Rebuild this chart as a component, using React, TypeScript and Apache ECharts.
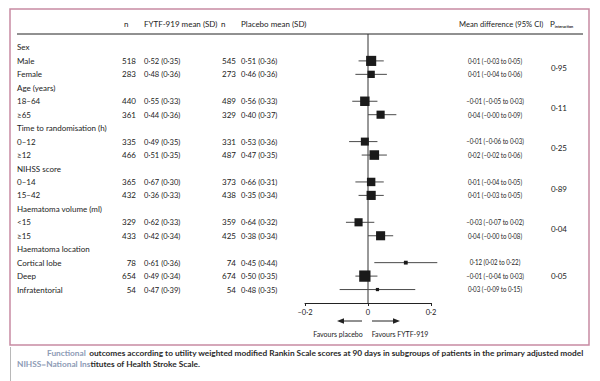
import React, { useEffect, useRef } from "react";
import * as echarts from "echarts";

// ---- data ----
const rowLabels = [
  "Sex", "Male", "Female",
  "Age (years)", "18–64", "≥65",
  "Time to randomisation (h)", "0–12", "≥12",
  "NIHSS score", "0–14", "15–42",
  "Haematoma volume (ml)", "<15", "≥15",
  "Haematoma location", "Cortical lobe", "Deep", "Infratentorial",
];
// null = group header row
const nFytf = [null, 518, 283, null, 440, 361, null, 335, 466, null, 365, 432, null, 329, 433, null, 78, 654, 54];
const meanFytf = [null, 0.52, 0.48, null, 0.55, 0.44, null, 0.49, 0.51, null, 0.67, 0.36, null, 0.62, 0.42, null, 0.61, 0.49, 0.47];
const sdFytf = [null, 0.35, 0.36, null, 0.33, 0.36, null, 0.35, 0.35, null, 0.30, 0.33, null, 0.33, 0.34, null, 0.36, 0.34, 0.39];
const nPlacebo = [null, 545, 273, null, 489, 329, null, 331, 487, null, 373, 438, null, 359, 425, null, 74, 674, 54];
const meanPlacebo = [null, 0.51, 0.46, null, 0.56, 0.40, null, 0.53, 0.47, null, 0.66, 0.35, null, 0.64, 0.38, null, 0.45, 0.50, 0.48];
const sdPlacebo = [null, 0.36, 0.36, null, 0.33, 0.37, null, 0.36, 0.35, null, 0.31, 0.34, null, 0.32, 0.34, null, 0.44, 0.35, 0.35];
const meanDiff = [null, 0.01, 0.01, null, -0.01, 0.04, null, -0.01, 0.02, null, 0.01, 0.01, null, -0.03, 0.04, null, 0.12, -0.01, 0.03];
const ciLow = [null, -0.03, -0.04, null, -0.05, -0, null, -0.06, -0.02, null, -0.04, -0.03, null, -0.07, -0, null, 0.02, -0.04, -0.09];
const ciHigh = [null, 0.05, 0.06, null, 0.03, 0.09, null, 0.03, 0.06, null, 0.05, 0.05, null, 0.02, 0.08, null, 0.22, 0.03, 0.15];
// p interaction: [value, first row, last row]
const pInteraction: [number, number, number][] = [
  [0.95, 1, 2], [0.11, 4, 5], [0.25, 7, 8], [0.89, 10, 11], [0.04, 13, 14], [0.05, 17, 17],
];
const xTicks = [-0.2, 0, 0.2];

// ---- helpers ----
const fmt = (v: number, d = 2) => {
  const neg = v < 0 || Object.is(v, -0);
  return (neg ? "–" : "") + Math.abs(v).toFixed(d).replace(".", "·");
};

const TEXT = "#222222";
const FONT = "Lato";
const FS = 8;

export default function App() {
  const ref = useRef<HTMLDivElement>(null);

  useEffect(() => {
    document.body.style.margin = "0";
    if (!ref.current) return;
    const chart = echarts.init(ref.current, undefined, { renderer: "svg" });

    const gridTop = 34;
    const gridH = 269;
    const nSlots = rowLabels.length + 1;
    const rowY = (i: number) => gridTop + ((i + 1) * gridH) / nSlots;

    const scatterData: any[] = [];
    // segments: [x1, x2, y1, y2]
    const segData: any[] = [];
    // the line of no difference, from the top to the bottom of the plot
    segData.push([0, 0, 0, nSlots]);
    rowLabels.forEach((_, i) => {
      if (meanDiff[i] === null) return;
      const total = (nFytf[i] as number) + (nPlacebo[i] as number);
      scatterData.push({ value: [meanDiff[i], i + 1], symbolSize: Math.sqrt(total) * 0.31 });
      segData.push([ciLow[i], ciHigh[i], i + 1, i + 1]);
    });

    const txt = (x: number, y: number, text: string, align: string = "left", extra: any = {}, scaleX = 1) => ({
      type: "text",
      x,
      y,
      scaleX,
      silent: true,
      style: {
        text,
        fill: TEXT,
        font: `${FS}px ${FONT}`,
        textAlign: align,
        textVerticalAlign: "middle",
        ...extra,
      },
    });

    const graphics: any[] = [];
    // frame
    graphics.push({
      type: "rect",
      shape: { x: 10, y: 9, width: 579, height: 336 },
      style: { fill: "none", stroke: "#c78aa2", lineWidth: 1.5 },
      silent: true,
    });
    graphics.push({
      type: "line",
      shape: { x1: 10.5, y1: 347, x2: 10.5, y2: 381 },
      style: { stroke: "#b8b8b8", lineWidth: 1 },
      silent: true,
    });
    // header rule
    graphics.push({
      type: "line",
      shape: { x1: 17, y1: 34, x2: 583, y2: 34 },
      style: { stroke: "#222", lineWidth: 1 },
      silent: true,
    });
    // headers
    const hy = 24;
    graphics.push(txt(124, hy, "n"));
    graphics.push(txt(144, hy, "FYTF-919 mean (SD)"));
    graphics.push(txt(221, hy, "n"));
    graphics.push(txt(241, hy, "Placebo mean (SD)"));
    graphics.push(txt(459, hy, "Mean difference (95% CI)", "left", {}, 0.95));
    graphics.push({
      type: "text",
      x: 550,
      y: hy,
      silent: true,
      style: {
        text: "{p|P}{s|interaction}",
        fill: TEXT,
        textVerticalAlign: "middle",
        rich: {
          p: { fontFamily: FONT, fontSize: 8, fill: TEXT },
          s: { fontFamily: FONT, fontSize: 3.8, fontWeight: "bold", fill: TEXT, padding: [4, 0, 0, 0] },
        },
      },
    });

    // rows
    rowLabels.forEach((lab, i) => {
      const y = rowY(i);
      graphics.push(txt(17, y, lab));
      if (nFytf[i] === null) return;
      graphics.push(txt(136, y, String(nFytf[i]), "right"));
      graphics.push(txt(144, y, `${fmt(meanFytf[i] as number)} (${fmt(sdFytf[i] as number)})`, "left", {}, 0.95));
      graphics.push(txt(236, y, String(nPlacebo[i]), "right"));
      graphics.push(txt(241, y, `${fmt(meanPlacebo[i] as number)} (${fmt(sdPlacebo[i] as number)})`, "left", {}, 0.95));
      graphics.push(
        txt(
          495,
          y,
          `${fmt(meanDiff[i] as number)} (${fmt(ciLow[i] as number)} to ${fmt(ciHigh[i] as number)})`,
          "center",
          {},
          0.77
        )
      );
    });
    pInteraction.forEach(([p, a, b]) => {
      graphics.push(txt(551, (rowY(a) + rowY(b)) / 2, fmt(p)));
    });

    // favours arrows
    const ay = 321;
    graphics.push({ type: "line", shape: { x1: 362, y1: ay, x2: 343, y2: ay }, style: { stroke: "#222", lineWidth: 1 }, silent: true });
    graphics.push({ type: "polygon", shape: { points: [[337, ay], [344, ay - 2.8], [344, ay + 2.8]] }, style: { fill: "#222" }, silent: true });
    graphics.push({ type: "line", shape: { x1: 372, y1: ay, x2: 394, y2: ay }, style: { stroke: "#222", lineWidth: 1 }, silent: true });
    graphics.push({ type: "polygon", shape: { points: [[400, ay], [393, ay - 2.8], [393, ay + 2.8]] }, style: { fill: "#222" }, silent: true });
    graphics.push(txt(338, 334, "Favours placebo", "center", { font: `7px ${FONT}` }));
    graphics.push(txt(400, 334, "Favours FYTF-919", "center", { font: `7px ${FONT}` }));

    // caption
    const capRich = {
      g: { fontFamily: FONT, fontWeight: "bold", fontSize: 8.3, fill: "#8d9bb5" },
      b: { fontFamily: FONT, fontWeight: "bold", fontSize: 8.3, fill: "#2a2a2a" },
    };
    graphics.push({
      type: "text",
      x: 47,
      y: 353,
      silent: true,
      style: {
        text: "{g|Functional} {b|outcomes according to utility weighted modified Rankin Scale scores at 90 days in subgroups of patients in the primary adjusted model}",
        textVerticalAlign: "middle",
        rich: capRich,
      },
    });
    graphics.push({
      type: "text",
      x: 17,
      y: 364,
      silent: true,
      style: {
        text: "{g|NIHSS=National Ins}{b|titutes of Health Stroke Scale.}",
        textVerticalAlign: "middle",
        rich: capRich,
      },
    });

    chart.setOption({
      animation: false,
      backgroundColor: "#ffffff",
      grid: { left: 305, top: gridTop, width: 126, height: gridH, containLabel: false },
      xAxis: {
        type: "value",
        min: xTicks[0],
        max: xTicks[xTicks.length - 1],
        interval: 0.2,
        axisLine: { show: true, onZero: false, lineStyle: { color: "#222", width: 1 } },
        axisTick: { show: true, length: 3, lineStyle: { color: "#222" } },
        splitLine: { show: false },
        axisLabel: {
          color: TEXT,
          fontFamily: FONT,
          fontSize: 7.5,
          margin: 5,
          formatter: (v: number) => (Math.abs(v) < 1e-9 ? "0" : fmt(v, 1)),
        },
      },
      yAxis: {
        type: "value",
        min: 0,
        max: nSlots,
        inverse: true,
        show: false,
        axisLine: { show: false, onZero: false },
        splitLine: { show: false },
      },
      series: [
        {
          type: "custom",
          z: 1,
          data: segData,
          dimensions: ["x1", "x2", "y1", "y2"],
          encode: { x: [0, 1], y: [2, 3] },
          renderItem: (params: any, api: any) => {
            const p1 = api.coord([api.value(0), api.value(2)]);
            const p2 = api.coord([api.value(1), api.value(3)]);
            return {
              type: "line",
              shape: { x1: p1[0], y1: p1[1], x2: p2[0], y2: p2[1] },
              style: { stroke: params.dataIndex === 0 ? "#333" : "#4a4a4a", lineWidth: 1 },
            };
          },
          silent: true,
        },
        {
          type: "scatter",
          z: 3,
          symbol: "rect",
          data: scatterData,
          itemStyle: { color: "#1a1a1a", opacity: 1 },
          silent: true,
        },
      ],
      graphic: graphics,
    });

    return () => chart.dispose();
  }, []);

  return <div ref={ref} style={{ width: 600, height: 381 }} />;
}
